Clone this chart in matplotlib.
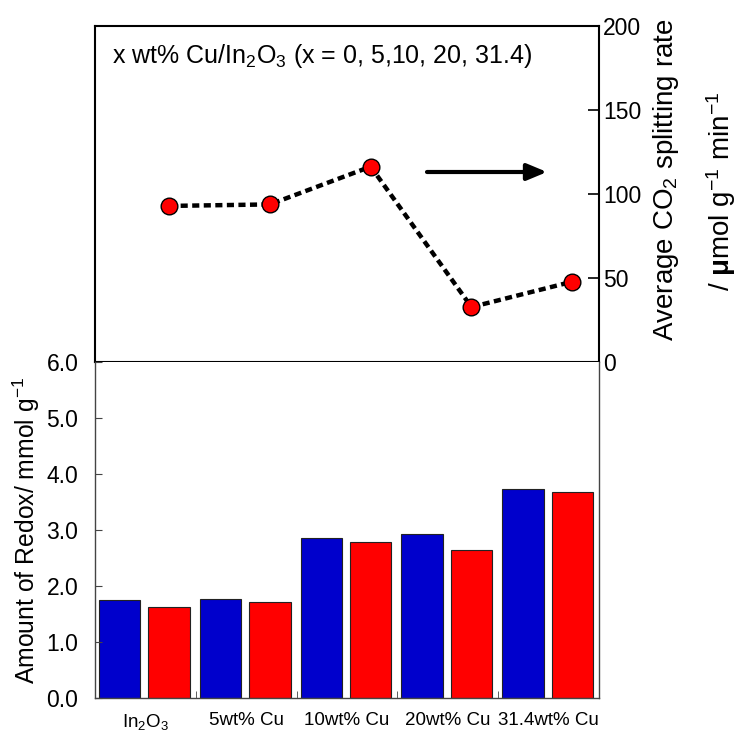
import numpy as np
import matplotlib
matplotlib.use("Agg")
import matplotlib.pyplot as plt

plt.rcParams['font.family'] = ['Liberation Sans', 'DejaVu Sans']
plt.rcParams['mathtext.fontset'] = 'custom'
plt.rcParams['mathtext.rm'] = 'Liberation Sans'
plt.rcParams['mathtext.it'] = 'Liberation Sans:italic'
plt.rcParams['mathtext.bf'] = 'Liberation Sans:bold'

# data
samples = ["In$_2$O$_3$", "5wt% Cu", "10wt% Cu", "20wt% Cu", "31.4wt% Cu"]
redox_blue = [1.75, 1.77, 2.85, 2.93, 3.73]
redox_red = [1.63, 1.71, 2.78, 2.65, 3.68]
co2_rate = [92.9, 93.8, 116.3, 32.7, 47.8]

fig = plt.figure(figsize=(7.46, 7.36), dpi=100)
W, H = 746.0, 736.0
ax_top = fig.add_axes([95 / W, (H - 362) / H, 504 / W, 336 / H])
ax_bot = fig.add_axes([95 / W, (H - 698) / H, 504 / W, 336 / H])

x = np.arange(len(samples))
bw = 0.41

# bottom panel: bars
ax_bot.bar(x + 0.245, redox_blue, bw, color='#0000CC', edgecolor='#222222', linewidth=0.8)
ax_bot.bar(x + 0.735, redox_red, bw, color='#FF0000', edgecolor='#222222', linewidth=0.8)
ax_bot.set_xlim(0, 5)
ax_bot.set_ylim(0, 6)
ax_bot.set_yticks(np.arange(0, 7, 1))
ax_bot.set_yticklabels(["%.1f" % v for v in np.arange(0, 7, 1)], fontsize=16.5)
ax_bot.set_xticks(x + 0.5)
ax_bot.set_xticklabels(samples, fontsize=13.5)
ax_bot.set_xticks(np.arange(1, 5), minor=True)
ax_bot.tick_params(axis='x', which='major', length=0, pad=10)
ax_bot.tick_params(axis='x', which='minor', direction='in', length=5, color='#444444')
ax_bot.tick_params(axis='y', direction='in', length=5, color='#444444', pad=12)
for s in ['left', 'right', 'bottom']:
    ax_bot.spines[s].set_color('#444444')
    ax_bot.spines[s].set_linewidth(1.0)
ax_bot.spines['top'].set_visible(False)
ax_bot.set_ylabel("Amount of Redox/ mmol g$^{-1}$", fontsize=17.8, labelpad=3)

# top panel: CO2 splitting rate
ax_top.plot(x + 0.735, co2_rate, color='black', linewidth=3.2, dashes=(1.6, 1.0),
            marker='o', markersize=12, markerfacecolor='#FF0000',
            markeredgecolor='black', markeredgewidth=1.0)
ax_top.set_xlim(0, 5)
ax_top.set_ylim(0, 200)
ax_top.set_xticks([])
ax_top.yaxis.tick_right()
ax_top.set_yticks([0, 50, 100, 150, 200])
ax_top.tick_params(axis='y', direction='in', length=8, labelsize=16.5, pad=3, width=1.2)
for s in ax_top.spines.values():
    s.set_linewidth(1.5)
    s.set_color('black')

ax_top.text(0.033, 0.91, "x wt% Cu/In$_2$O$_3$ (x = 0, 5,10, 20, 31.4)",
            transform=ax_top.transAxes, fontsize=18, va='center', ha='left')

# arrow pointing to the right axis
ax_top.annotate("", xy=((547 - 95) / 504, (362 - 172) / 336),
                xytext=((427 - 95) / 504, (362 - 172) / 336),
                xycoords='axes fraction', textcoords='axes fraction',
                arrowprops=dict(arrowstyle='-|>,head_length=1.2,head_width=0.5',
                                color='black', lw=3, shrinkA=0, shrinkB=0))

fig.text(666 / W, (H - 180) / H, "Average CO$_2$ splitting rate", rotation=90,
         fontsize=20, ha='center', va='center')
fig.text(721 / W, (H - 191) / H, "/ $\\mathbf{\\mu}$mol g$^{-1}$ min$^{-1}$", rotation=90,
         fontsize=20, ha='center', va='center')

fig.savefig("out.png", dpi=100)
